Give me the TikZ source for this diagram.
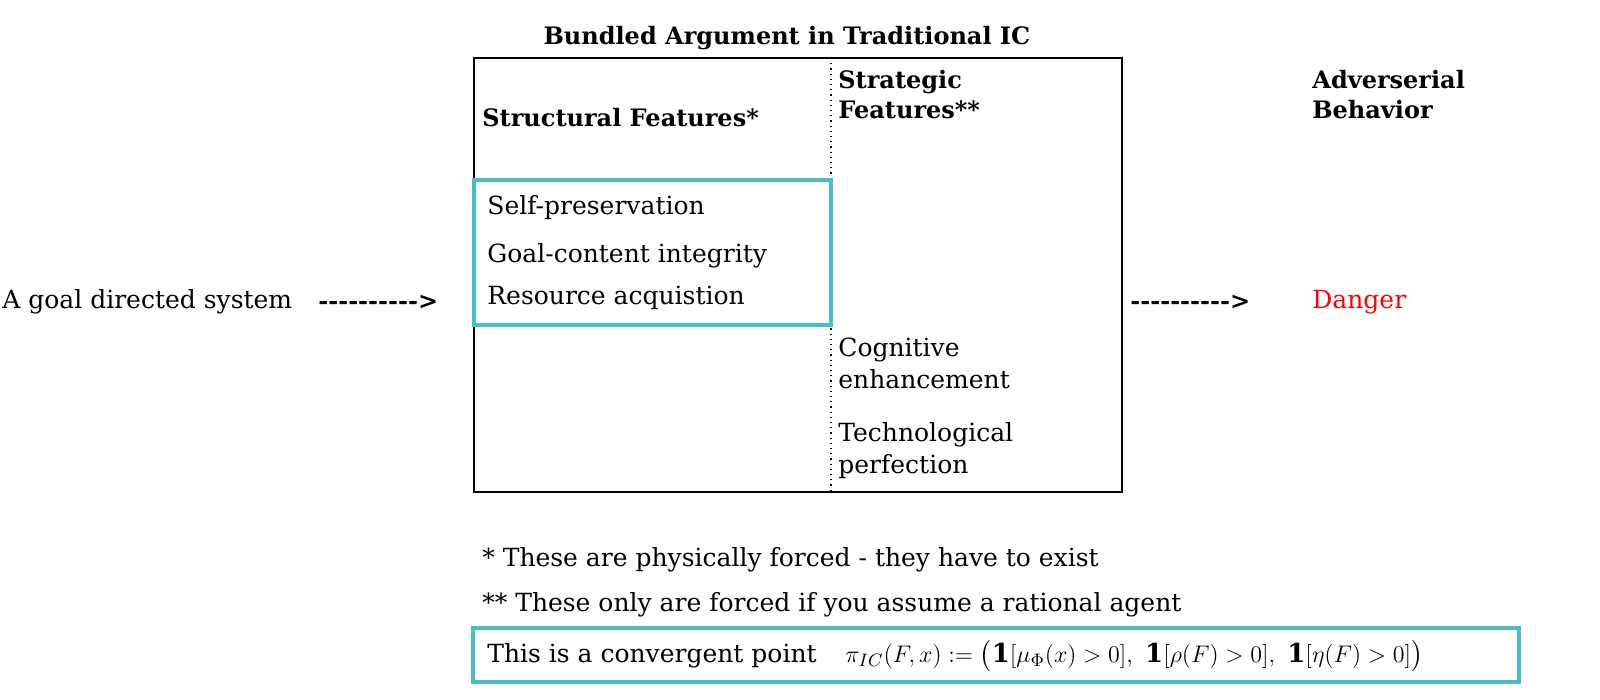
\documentclass[tikz,border=0pt]{standalone}
\usepackage{amsmath,amssymb}
\usepackage{fontspec}
\setmainfont{DejaVu Serif}
\begin{document}
\begin{tikzpicture}[x=0.5pt,y=-0.5pt,
  txt/.style={anchor=west,inner sep=0pt,font=\fontsize{12.5}{16}\selectfont},
  btxt/.style={txt,font=\fontsize{12}{15}\selectfont\bfseries},
  arr/.style={btxt}]
\definecolor{tealbox}{RGB}{72,190,198}
\newcommand{\dasharr}{-{}-{}-{}-{}-{}-{}-{}-{}-{}->}
\useasboundingbox (0,0) rectangle (1600,700);
\draw[line width=0.6pt] (474,58) rectangle (1122,492);
\draw[dotted,line width=0.6pt] (831,58) -- (831,492);
\node[btxt,anchor=center] (title) at (787,38) {Bundled Argument in Traditional IC};
\node[btxt] (struct) at (482,118) {Structural Features*};
\node[btxt,align=left,anchor=north west] (strat) at (838,70) {Strategic\\Features**};
\node[btxt,align=left,anchor=north west] (adv) at (1312,70) {Adverserial\\Behavior};
\draw[draw=tealbox,line width=2pt] (474,180) rectangle (831,325);
\node[txt] (sp) at (487,208) {Self-preservation};
\node[txt] (gc) at (487,256) {Goal-content integrity};
\node[txt] (ra) at (487,298) {Resource acquistion};
\node[txt] (sys) at (2,302) {A goal directed system};
\node[arr] (a1) at (318,302) {\dasharr};
\node[arr] (a2) at (1130,302) {\dasharr};
\node[txt,text=red] (danger) at (1312,302) {Danger};
\node[txt,align=left,anchor=north west] (cog) at (838,338) {Cognitive\\enhancement};
\node[txt,align=left,anchor=north west] (tech) at (838,422) {Technological\\perfection};
\node[txt] (f1) at (482,560) {* These are physically forced - they have to exist};
\node[txt] (f2) at (482,605) {** These only are forced if you assume a rational agent};
\draw[draw=tealbox,line width=2pt] (473,628) rectangle (1519,682);
\node[txt] (conv) at (487,656) {This is a convergent point};
\node[txt,font=\fontsize{13}{16}\selectfont] (form) at (845,656) {$\pi_{IC}(F,x) := \bigl(\mathbf{1}[\mu_\Phi(x)>0],\ \mathbf{1}[\rho(F)>0],\ \mathbf{1}[\eta(F)>0]\bigr)$};
\end{tikzpicture}
\end{document}
